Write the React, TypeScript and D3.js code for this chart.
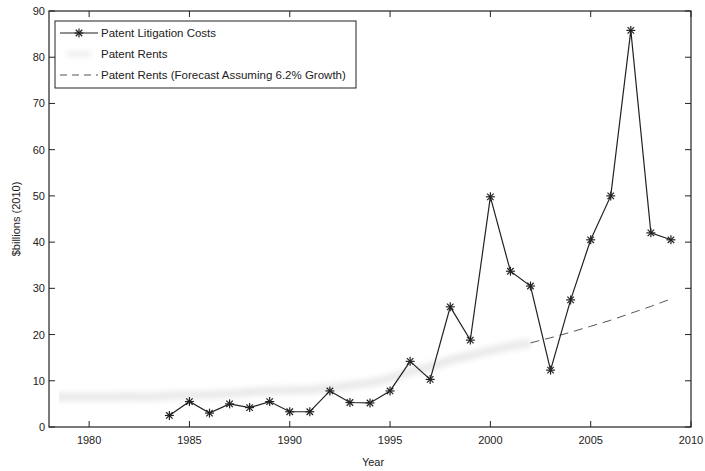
import React from 'react';
import * as d3 from 'd3';

// Patent litigation costs, $billions (2010)
const costYears = [1984, 1985, 1986, 1987, 1988, 1989, 1990, 1991, 1992, 1993, 1994, 1995, 1996,
  1997, 1998, 1999, 2000, 2001, 2002, 2003, 2004, 2005, 2006, 2007, 2008, 2009];
const costValues = [2.5, 5.5, 3.0, 5.0, 4.2, 5.5, 3.3, 3.3, 7.8, 5.3, 5.2, 7.8, 14.2,
  10.3, 26.0, 18.8, 49.8, 33.7, 30.5, 12.3, 27.5, 40.5, 50.0, 85.8, 42.0, 40.5];

// Patent rents (faint band)
const rentYears = [1978, 1979, 1980, 1981, 1982, 1983, 1984, 1985, 1986, 1987, 1988, 1989, 1990,
  1991, 1992, 1993, 1994, 1995, 1996, 1997, 1998, 1999, 2000, 2001, 2002];
const rentValues = [6.5, 6.5, 6.5, 6.5, 6.6, 6.5, 6.8, 6.9, 7.0, 7.2, 7.5, 7.8, 7.9,
  8.0, 8.5, 9.0, 9.5, 10.5, 12.0, 13.0, 14.5, 15.5, 16.5, 17.5, 18.2];

// Forecast at 6.2% growth
const forecastYears = [2002, 2003, 2004, 2005, 2006, 2007, 2008, 2009];
const forecastValues = [18.2, 19.3, 20.5, 21.8, 23.1, 24.6, 26.1, 27.7];

const xTicks = [1980, 1985, 1990, 1995, 2000, 2005, 2010];
const yTicks = [0, 10, 20, 30, 40, 50, 60, 70, 80, 90];

const legendLabels = [
  'Patent Litigation Costs',
  'Patent Rents',
  'Patent Rents (Forecast Assuming 6.2% Growth)',
];

const W = 705;
const H = 471;
const left = 49;
const right = 691;
const top = 11;
const bottom = 427;
const font = '"Liberation Sans", Arial, sans-serif';

const x = d3.scaleLinear().domain([1978, 2010]).range([left, right]);
const y = d3.scaleLinear().domain([0, 90]).range([bottom, top]);

type P = [number, number];
const line = d3.line<P>().x(d => x(d[0])).y(d => y(d[1]));

const zip = (a: number[], b: number[]): P[] => a.map((v, i) => [v, b[i]] as P);

const Star: React.FC<{ cx: number; cy: number }> = ({ cx, cy }) => {
  const r = 4.5;
  const d = r * 0.72;
  return (
    <g stroke="#222" strokeWidth={1.2}>
      <line x1={cx - r} y1={cy} x2={cx + r} y2={cy} />
      <line x1={cx} y1={cy - r} x2={cx} y2={cy + r} />
      <line x1={cx - d} y1={cy - d} x2={cx + d} y2={cy + d} />
      <line x1={cx - d} y1={cy + d} x2={cx + d} y2={cy - d} />
    </g>
  );
};

export default function App() {
  const costs = zip(costYears, costValues);
  const rents = zip(rentYears, rentValues);
  const forecast = zip(forecastYears, forecastValues);
  const tickLen = 6;

  const legX = 55;
  const legY = 21;
  const rowH = 21;

  return (
    <svg width={W} height={H} style={{ position: 'absolute', left: 0, top: 0, background: '#fff' }}>
      <defs>
        <filter id="soft" filterUnits="userSpaceOnUse" x={0} y={0} width={W} height={H}>
          <feGaussianBlur stdDeviation="2.5" />
        </filter>
        <clipPath id="plot">
          <rect x={left + 10} y={top} width={right - left - 10} height={bottom - top} />
        </clipPath>
      </defs>
      <rect x={0} y={0} width={W} height={H} fill="#fff" />

      {/* patent rents band */}
      <g clipPath="url(#plot)">
        <path d={line(rents) || ''} fill="none" stroke="#ebebeb" strokeWidth={9}
          strokeLinecap="butt" strokeLinejoin="round" filter="url(#soft)" />
      </g>

      {/* forecast */}
      <path d={line(forecast) || ''} fill="none" stroke="#555" strokeWidth={1}
        strokeDasharray="9 6" />

      {/* litigation costs */}
      <path d={line(costs) || ''} fill="none" stroke="#222" strokeWidth={1.2} />
      {costs.map((d, i) => (
        <Star key={i} cx={x(d[0])} cy={y(d[1])} />
      ))}

      {/* frame */}
      <rect x={left} y={top} width={right - left} height={bottom - top} fill="none"
        stroke="#222" strokeWidth={1.2} />

      {xTicks.map(t => (
        <g key={t}>
          <line x1={x(t)} x2={x(t)} y1={bottom} y2={bottom - tickLen} stroke="#222" />
          <line x1={x(t)} x2={x(t)} y1={top} y2={top + tickLen} stroke="#222" />
          <text x={x(t)} y={bottom + 17} textAnchor="middle" fontFamily={font} fontSize={11}
            fill="#222">{t}</text>
        </g>
      ))}
      {yTicks.map(t => (
        <g key={t}>
          <line x1={left} x2={left + tickLen} y1={y(t)} y2={y(t)} stroke="#222" />
          <line x1={right} x2={right - tickLen} y1={y(t)} y2={y(t)} stroke="#222" />
          <text x={left - 4} y={y(t) + 4} textAnchor="end" fontFamily={font} fontSize={11}
            fill="#222">{t}</text>
        </g>
      ))}

      <text x={373} y={466} textAnchor="middle" fontFamily={font} fontSize={11}
        fill="#222">Year</text>
      <text transform={`translate(20,${(top + bottom) / 2}) rotate(-90)`} textAnchor="middle"
        fontFamily={font} fontSize={11} fill="#222">$billions (2010)</text>

      {/* legend */}
      <rect x={legX} y={legY} width={301} height={67} fill="#fff" stroke="#222" strokeWidth={1} />
      {legendLabels.map((lab, i) => {
        const ly = legY + 12 + i * rowH;
        return (
          <g key={lab}>
            {i === 0 && (
              <>
                <line x1={legX + 5} x2={legX + 43} y1={ly} y2={ly} stroke="#222" strokeWidth={1.2} />
                <Star cx={legX + 24} cy={ly} />
              </>
            )}
            {i === 1 && (
              <line x1={legX + 12} x2={legX + 36} y1={ly} y2={ly} stroke="#ececec" strokeWidth={5}
                filter="url(#soft)" />
            )}
            {i === 2 && (
              <line x1={legX + 5} x2={legX + 43} y1={ly} y2={ly} stroke="#555" strokeWidth={1}
                strokeDasharray="7 5" />
            )}
            <text x={legX + 46} y={ly + 4} fontFamily={font} fontSize={11.5} fill="#222">{lab}</text>
          </g>
        );
      })}
    </svg>
  );
}
